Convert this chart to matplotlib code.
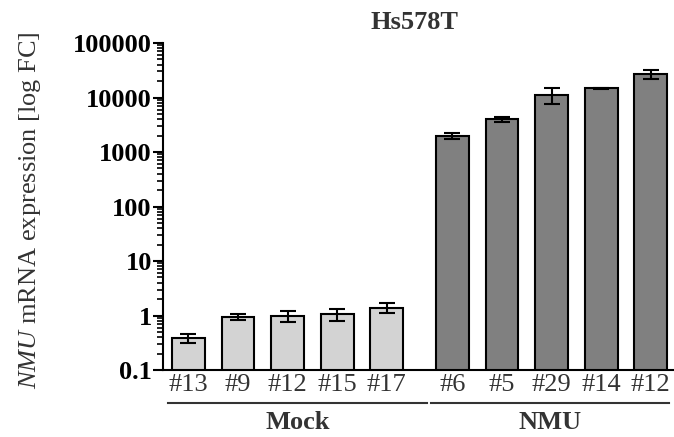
import numpy as np
import matplotlib
matplotlib.use("Agg")
import matplotlib.pyplot as plt
from matplotlib.ticker import FixedLocator, FuncFormatter, LogLocator

plt.rcParams['font.family'] = ['Liberation Serif', 'DejaVu Serif']
plt.rcParams['mathtext.fontset'] = 'custom'
plt.rcParams['mathtext.rm'] = 'Liberation Serif'
plt.rcParams['mathtext.it'] = 'Liberation Serif:italic'

# data
mock_labels = ['#13', '#9', '#12', '#15', '#17']
mock_vals = [0.38, 0.93, 0.99, 1.05, 1.39]
mock_err = [0.07, 0.12, 0.24, 0.27, 0.28]

nmu_labels = ['#6', '#5', '#29', '#14', '#12']
nmu_vals = [1990, 3980, 11250, 14750, 27000]
nmu_err = [250, 460, 3800, 350, 4900]

groups = ['Mock', 'NMU']

mock_x = np.arange(5)
nmu_x = np.arange(5) + 5.32

fig = plt.figure(figsize=(6.74, 4.37), dpi=100)
ax = fig.add_axes([0.2418, 0.1533, 0.757, 0.7483])

ekw = dict(ecolor='black', elinewidth=1.5, capsize=6, capthick=1.5)
ax.bar(mock_x, mock_vals, width=0.66, color='#d3d3d3', edgecolor='black',
       linewidth=1.5, yerr=mock_err, error_kw=ekw, zorder=2)
ax.bar(nmu_x, nmu_vals, width=0.66, color='#808080', edgecolor='black',
       linewidth=1.5, yerr=nmu_err, error_kw=ekw, zorder=2)

ax.set_yscale('log')
ax.set_ylim(0.1, 100000)
ax.set_xlim(-0.51, 9.77)

ax.yaxis.set_major_locator(FixedLocator([0.1, 1, 10, 100, 1000, 10000, 100000]))
ax.yaxis.set_major_formatter(FuncFormatter(lambda v, p: '%g' % v))
ax.yaxis.set_minor_locator(LogLocator(base=10, subs=np.arange(2, 10)))
ax.tick_params(axis='y', which='major', length=7, width=1.5, labelsize=19, pad=1)
ax.tick_params(axis='y', which='minor', length=4, width=1.2)
for t in ax.get_yticklabels():
    t.set_fontweight('bold')

xs = list(mock_x) + list(nmu_x)
ax.set_xticks(xs)
ax.set_xticklabels(mock_labels + nmu_labels, fontsize=19, color='#333333')
ax.tick_params(axis='x', length=0, pad=3)

for s in ['top', 'right']:
    ax.spines[s].set_visible(False)
ax.spines['left'].set_linewidth(1.5)
ax.spines['bottom'].set_linewidth(1.5)

ax.set_ylabel(r'$\mathit{NMU}$ mRNA expression [log FC]', fontsize=19, color='#333333')
ax.yaxis.set_label_coords(-0.235, 0.49)

# group brackets below the tick labels
tr = ax.get_xaxis_transform()
spans = [(mock_x[0] - 0.41, mock_x[-1] + 0.81), (nmu_x[0] - 0.43, nmu_x[-1] + 0.37)]
for name, (a, b) in zip(groups, spans):
    ax.plot([a, b], [-0.101, -0.101], color='#333333', lw=1.5, transform=tr, clip_on=False)
    ax.text((a + b) / 2, -0.16, name, transform=tr, ha='center', va='center',
            fontsize=19, fontweight='bold', color='#333333')

fig.text(0.615, 0.948, 'Hs578T', ha='center', va='center', fontsize=19,
         fontweight='bold', color='#333333')

fig.savefig('out.png', dpi=100)
